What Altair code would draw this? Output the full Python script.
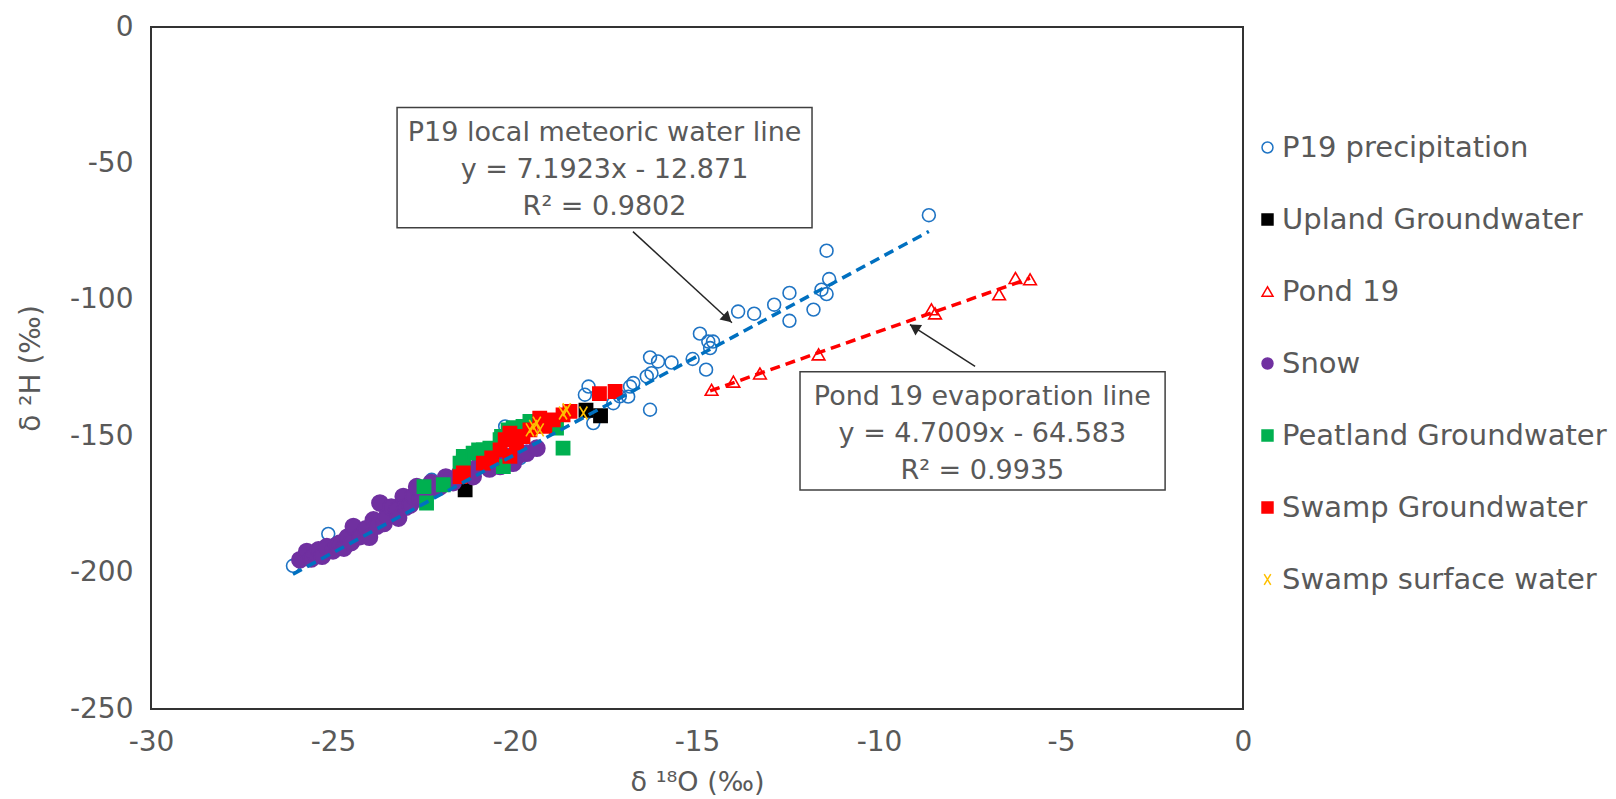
import altair as alt
import pandas as pd

FONT = "DejaVu Sans"
TXT = "#595959"

series_names = ["P19 precipitation", "Upland Groundwater", "Pond 19", "Snow",
                "Peatland Groundwater", "Swamp Groundwater", "Swamp surface water"]
stroke_colors = ["#1F74C4", "#000000", "#FF0000", "#7030A0", "#00B050", "#FF0000", "#FFC000"]
fill_colors = ["transparent", "#000000", "transparent", "#7030A0", "#00B050", "#FF0000", "transparent"]
shapes = ["circle", "square", "triangle-up", "circle", "square", "square",
          "M-0.6,-1L0.6,1M0.6,-1L-0.6,1"]
sizes = [165, 175, 160, 260, 175, 175, 170]

# P19 precipitation
p19_x = [-8.63, -11.44, -11.37, -11.44, -11.80, -12.46, -12.46, -11.58, -12.88, -13.43,
         -13.87, -14.92, -14.69, -14.56, -14.64, -14.75, -15.12, -15.70, -16.07, -16.29,
         -16.25, -16.75, -16.89, -17.98, -18.08, -17.85, -17.12, -17.30, -16.38, -16.29,
         -16.84, -26.10, -25.13, -22.29, -19.86, -20.27]
p19_y = [-69.0, -82.0, -92.4, -97.9, -103.6, -97.5, -107.7, -96.3, -101.8, -105.1,
         -104.3, -112.4, -115.3, -115.3, -117.7, -125.6, -121.7, -123.0, -122.6, -121.1,
         -126.9, -130.5, -135.5, -131.8, -134.8, -145.2, -135.4, -137.9, -128.1, -140.3,
         -131.8, -197.5, -185.8, -166.0, -158.0, -146.4]

# Upland Groundwater
upl_x = [-21.37, -18.05, -17.65]
upl_y = [-169.7, -140.5, -142.5]

# Pond 19
pond_x = [-14.60, -14.00, -13.27, -11.66, -8.56, -8.46, -6.70, -6.25, -5.85]
pond_y = [-133.0, -130.0, -127.0, -120.0, -103.5, -105.0, -98.0, -92.0, -92.5]

# Snow
snow_x = [-25.91, -25.72, -25.60, -25.50, -25.40, -25.30, -25.17, -25.00, -24.90, -24.81,
          -24.70, -24.60, -24.50, -24.44, -24.26, -24.10, -24.00, -23.89, -23.80, -23.71,
          -23.60, -23.53, -23.40, -23.25, -23.20, -23.07, -23.00, -22.88, -22.80, -22.70,
          -22.60, -22.43, -22.30, -22.20, -22.06, -21.90, -21.88, -21.70, -21.51, -21.30,
          -21.15, -20.96, -20.80, -20.70, -20.41, -20.20, -20.05, -19.90, -19.68, -19.40]
snow_y = [-195.3, -192.3, -195.0, -193.0, -191.7, -194.0, -190.5, -192.0, -190.0, -189.2,
          -191.0, -187.0, -189.0, -183.1, -186.8, -184.0, -187.0, -180.7, -183.0, -174.5,
          -182.0, -179.5, -176.0, -177.0, -180.0, -172.1, -176.0, -175.2, -172.0, -168.5,
          -173.0, -170.9, -167.0, -169.0, -168.5, -165.0, -166.6, -167.0, -163.5, -162.0,
          -164.8, -159.9, -160.0, -162.0, -161.1, -157.5, -159.9, -157.0, -156.2, -154.4]

# Peatland Groundwater
peat_x = [-22.50, -22.43, -21.97, -21.51, -21.42, -21.42, -21.15, -21.00, -20.87, -20.69,
          -20.41, -20.37, -20.32, -20.19, -20.05, -19.96, -19.78, -19.59, -18.86, -18.68]
peat_y = [-168.5, -174.5, -167.8, -159.9, -157.4, -159.3, -156.2, -155.0, -155.0, -154.4,
          -151.3, -150.1, -161.1, -147.7, -147.0, -147.0, -146.4, -144.6, -147.0, -154.4]

# Swamp Groundwater
swgw_x = [-21.51, -21.42, -20.87, -20.64, -20.41, -20.27, -20.14, -20.14, -19.96, -19.78,
          -19.59, -19.32, -19.18, -18.95, -18.68, -18.49, -17.68, -17.25]
swgw_y = [-164.8, -163.5, -159.9, -158.0, -155.0, -151.3, -148.9, -157.4, -152.5, -150.1,
          -147.7, -143.4, -146.4, -144.0, -142.2, -140.9, -134.4, -133.6]

# Swamp surface water
sws_x = [-19.50, -19.40, -19.32, -19.59, -18.58, -18.68, -18.12]
sws_y = [-146.4, -145.2, -147.7, -147.7, -140.3, -141.5, -141.5]

# Trendlines (from the chart's equations)
lmwl_slope, lmwl_int, lmwl_xrange = 7.1923, -12.871, [-26.1, -8.63]
evap_slope, evap_int, evap_xrange = 4.7009, -64.583, [-14.64, -5.85]

# Annotation boxes / text / arrows (data coordinates)
box_x = [-23.24, -12.17]
box_x2 = [-11.84, -2.14]
box_y = [-29.5, -126.4]
box_y2 = [-73.6, -169.7]
label_text = ["P19 local meteoric water line", "y = 7.1923x - 12.871", "R² = 0.9802",
              "Pond 19 evaporation line", "y = 4.7009x - 64.583", "R² = 0.9935"]
label_x = [-17.54, -17.54, -17.54, -7.16, -7.16, -7.16]
label_y = [-38.7, -52.5, -66.1, -135.5, -149.1, -162.7]
arrow_x = [-16.76, -7.36]
arrow_y = [-75.0, -124.4]
arrow_x2 = [-14.04, -9.15]
arrow_y2 = [-108.4, -109.1]
head_x = [-14.16, -9.03]
head_y = [-106.9, -110.1]
head_angle = [132.6, 302.9]

all_x = [p19_x, upl_x, pond_x, snow_x, peat_x, swgw_x, sws_x]
all_y = [p19_y, upl_y, pond_y, snow_y, peat_y, swgw_y, sws_y]
rows = []
for name, sz, xs, ys in zip(series_names, sizes, all_x, all_y):
    for a, b in zip(xs, ys):
        rows.append({"series": name, "x": a, "y": b, "sz": sz})
pts = pd.DataFrame(rows)

xscale = alt.Scale(domain=[-30, 0], nice=False, zero=False)
yscale = alt.Scale(domain=[-250, 0], nice=False, zero=False)

xaxis = alt.Axis(values=list(range(-30, 1, 5)), labelExpr="'' + datum.value",
                 ticks=False, domain=False, grid=False, labelFlush=False, labelOverlap=False,
                 labelFontSize=28, labelColor=TXT, labelFont=FONT, labelPadding=19,
                 title="δ ¹⁸O (‰)", titleFontSize=27, titleColor=TXT, titleFont=FONT,
                 titleFontWeight="normal", titlePadding=13)
yaxis = alt.Axis(values=list(range(-250, 1, 50)), labelExpr="'' + datum.value",
                 ticks=False, domain=False, grid=False, labelFlush=False, labelOverlap=False,
                 labelFontSize=28, labelColor=TXT, labelFont=FONT, labelPadding=18,
                 title="δ ²H (‰)", titleFontSize=28, titleColor=TXT, titleFont=FONT,
                 titleFontWeight="normal", titlePadding=24)

legend = alt.Legend(title=None, orient="none", legendX=1102, legendY=106,
                    labelFontSize=29, labelColor=TXT, labelFont=FONT, labelOffset=0,
                    labelLimit=400, symbolSize=120, symbolStrokeWidth=1.5, rowPadding=42)

points = alt.Chart(pts).mark_point(opacity=1, strokeWidth=1.6).encode(
    x=alt.X("x:Q", scale=xscale, axis=xaxis),
    y=alt.Y("y:Q", scale=yscale, axis=yaxis),
    stroke=alt.Stroke("series:N", scale=alt.Scale(domain=series_names, range=stroke_colors), legend=legend),
    fill=alt.Fill("series:N", scale=alt.Scale(domain=series_names, range=fill_colors), legend=legend),
    shape=alt.Shape("series:N", scale=alt.Scale(domain=series_names, range=shapes), legend=legend),
    size=alt.Size("sz:Q", scale=None),
)

lmwl = pd.DataFrame({"x": lmwl_xrange, "y": [lmwl_slope * v + lmwl_int for v in lmwl_xrange]})
evap = pd.DataFrame({"x": evap_xrange, "y": [evap_slope * v + evap_int for v in evap_xrange]})
line1 = alt.Chart(lmwl).mark_line(color="#0070C0", strokeWidth=3.5, strokeDash=[10, 6]).encode(
    x="x:Q", y="y:Q")
line2 = alt.Chart(evap).mark_line(color="#FF0000", strokeWidth=3.5, strokeDash=[10, 6]).encode(
    x="x:Q", y="y:Q")

boxes = alt.Chart(pd.DataFrame({"x": box_x, "x2": box_x2, "y": box_y, "y2": box_y2})).mark_rect(
    fill="white", stroke="#404040", strokeWidth=1.5).encode(x="x:Q", x2="x2:Q", y="y:Q", y2="y2:Q")

texts = alt.Chart(pd.DataFrame({"t": label_text, "x": label_x, "y": label_y})).mark_text(
    font=FONT, fontSize=27, color=TXT, align="center", baseline="middle").encode(
    x="x:Q", y="y:Q", text="t:N")

arrows = alt.Chart(pd.DataFrame({"x": arrow_x, "y": arrow_y, "x2": arrow_x2, "y2": arrow_y2})).mark_rule(
    color="#262626", strokeWidth=1.5).encode(x="x:Q", y="y:Q", x2="x2:Q", y2="y2:Q")

head1 = alt.Chart(pd.DataFrame({"x": head_x[:1], "y": head_y[:1]})).mark_point(
    shape="triangle-up", filled=True, size=150, color="#262626", opacity=1, angle=head_angle[0]).encode(
    x="x:Q", y="y:Q")
head2 = alt.Chart(pd.DataFrame({"x": head_x[1:], "y": head_y[1:]})).mark_point(
    shape="triangle-up", filled=True, size=150, color="#262626", opacity=1, angle=head_angle[1]).encode(
    x="x:Q", y="y:Q")

chart = alt.layer(points, line1, line2, boxes, texts, arrows, head1, head2).properties(
    width=1092, height=682,
    padding={"left": 151, "top": 27, "right": 373, "bottom": 90},
    autosize=alt.AutoSizeParams(type="none"),
    background="white",
).configure_view(stroke="#333333", strokeWidth=2)

chart.save("out.html", embed_options={"renderer": "svg", "actions": False})
